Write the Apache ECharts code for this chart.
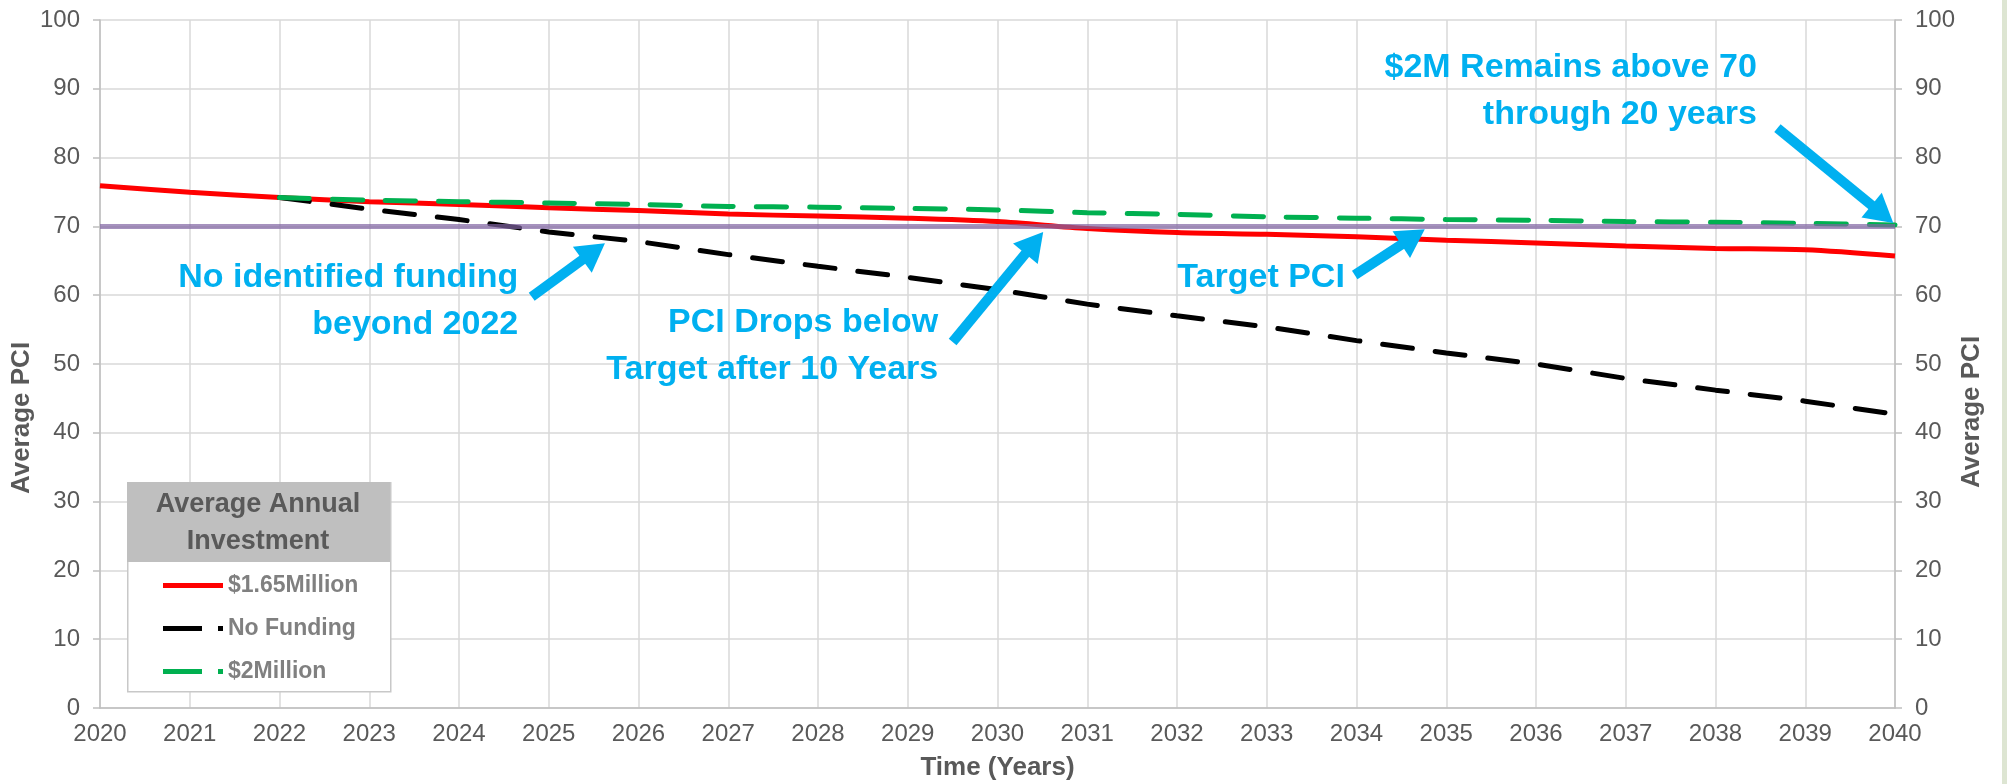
<!DOCTYPE html>
<html>
<head>
<meta charset="utf-8">
<title>Average PCI</title>
<script src="https://cdn.jsdelivr.net/npm/echarts@6.0.0/dist/echarts.min.js"></script>
<style>
  html, body { margin: 0; padding: 0; background: #fff; }
  #chart { width: 2007px; height: 784px; }
</style>
</head>
<body>
<div id="chart"></div>
<script>
// years on the x axis (also the tick labels)
const years = [2020, 2021, 2022, 2023, 2024, 2025, 2026, 2027, 2028, 2029, 2030,
  2031, 2032, 2033, 2034, 2035, 2036, 2037, 2038, 2039, 2040]

// $1.65Million
const fundingLow = [75.9, 74.95, 74.2, 73.6, 73.2, 72.7, 72.3, 71.8, 71.5, 71.2, 70.7,
  69.7, 69.1, 68.85, 68.5, 68.0, 67.6, 67.15, 66.8, 66.6, 65.7]
// No Funding (starts in 2022)
const noFunding = [null, null, 74.2, 72.5, 71.0, 69.2, 67.8, 65.9, 64.2, 62.6, 60.8,
  58.7, 57.0, 55.4, 53.4, 51.6, 50.0, 47.9, 46.2, 44.6, 42.7]
// $2Million (starts in 2022)
const fundingHigh = [null, null, 74.2, 73.8, 73.6, 73.4, 73.2, 72.9, 72.8, 72.6, 72.4,
  72.0, 71.75, 71.4, 71.2, 71.0, 70.9, 70.7, 70.6, 70.45, 70.2]
// Target PCI
const targetPci = [70, 70, 70, 70, 70, 70, 70, 70, 70, 70, 70,
  70, 70, 70, 70, 70, 70, 70, 70, 70, 70]

const seriesNames = ['$1.65Million', 'No Funding', '$2Million']

// callouts: [text, [year, pci]] (text right edge anchored at the point)
const noteTexts = [
  'No identified funding\nbeyond 2022',
  'PCI Drops below\nTarget after 10 Years',
  'Target PCI',
  '$2M Remains above 70\nthrough 20 years'
]
const notePoints = [[2024.66, 59.2], [2029.34, 52.6], [2033.87, 62.6], [2038.46, 89.7]]
// arrows: from -> to, in chart coordinates
const arrowFrom = [[2024.81, 59.78], [2029.50, 53.2], [2033.98, 62.94], [2038.69, 84.3]]
const arrowTo = [[2025.50, 66.35], [2030.41, 67.6], [2034.63, 68.46], [2039.86, 71.79]]

const pairs = arr => years.map((y, i) => [y, arr[i]]).filter(p => p[1] != null)

const FONT = "'Liberation Sans', Arial, sans-serif"
const AXIS_GREY = '#595959'
const CALLOUT = '#00b0f0'

// legend icons like the Excel ones: solid bar, or a dash followed by a dot
const ICON_SOLID = 'path://M0,0H60V5H0Z'
const ICON_DASH = 'path://M0,0H39V5H0Z M55,0H60V5H55Z'

const chart = echarts.init(document.getElementById('chart'))

const yAxisCommon = {
  type: 'value',
  min: 0,
  max: 100,
  interval: 10,
  axisLine: { show: true, lineStyle: { color: '#bfbfbf', width: 1.5 } },
  axisTick: { show: true, length: 7, lineStyle: { color: '#bfbfbf', width: 1.5 } },
  splitLine: { show: true, lineStyle: { color: '#d9d9d9', width: 1.5 } },
  axisLabel: { color: AXIS_GREY, fontSize: 24, fontFamily: FONT, margin: 20 }
}

chart.setOption({
  backgroundColor: '#ffffff',
  animation: false,
  grid: {
    left: 100, right: 112, top: 20, bottom: 76,
    containLabel: false, outerBoundsMode: 'none'
  },
  xAxis: {
    type: 'value',
    min: 2020,
    max: 2040,
    interval: 1,
    name: 'Time (Years)',
    nameLocation: 'middle',
    nameGap: 47,
    nameTextStyle: { color: AXIS_GREY, fontSize: 26, fontWeight: 'bold', fontFamily: FONT },
    axisLine: { show: true, lineStyle: { color: '#bfbfbf', width: 1.5 } },
    axisTick: { show: false },
    splitLine: { show: true, lineStyle: { color: '#d9d9d9', width: 1.5 } },
    axisLabel: {
      color: AXIS_GREY, fontSize: 24, fontFamily: FONT, margin: 14,
      formatter: v => String(v)
    }
  },
  yAxis: [
    Object.assign({ position: 'left' }, yAxisCommon),
    Object.assign({ position: 'right' }, yAxisCommon, { splitLine: { show: false } })
  ],
  legend: {
    data: [
      { name: seriesNames[0], icon: ICON_SOLID },
      { name: seriesNames[1], icon: ICON_DASH },
      { name: seriesNames[2], icon: ICON_DASH }
    ],
    orient: 'vertical',
    left: 158,
    top: 569,
    z: 100,
    itemWidth: 60,
    itemHeight: 5,
    itemGap: 20,
    itemStyle: { borderWidth: 0 },
    textStyle: { color: '#808080', fontSize: 23, fontWeight: 'bold', fontFamily: FONT }
  },
  graphic: [
    // legend frame with grey header
    {
      type: 'rect', left: 127, top: 482, z: 50,
      shape: { width: 263, height: 209 },
      style: { fill: '#ffffff', stroke: '#c8c8c8', lineWidth: 1.5 }
    },
    {
      type: 'rect', left: 127, top: 482, z: 51,
      shape: { width: 263, height: 80 },
      style: { fill: '#bfbfbf' }
    },
    {
      type: 'text', x: 258, y: 523, z: 52,
      style: {
        text: 'Average Annual\nInvestment', align: 'center', verticalAlign: 'middle',
        fill: AXIS_GREY, fontSize: 27, fontWeight: 'bold', fontFamily: FONT, lineHeight: 37
      }
    },
    // axis titles
    {
      type: 'text', x: 22, y: 418, rotation: Math.PI / 2, z: 10,
      style: {
        text: 'Average PCI', align: 'center', verticalAlign: 'middle',
        fill: AXIS_GREY, fontSize: 26, fontWeight: 'bold', fontFamily: FONT
      }
    },
    {
      type: 'text', x: 1972, y: 412, rotation: Math.PI / 2, z: 10,
      style: {
        text: 'Average PCI', align: 'center', verticalAlign: 'middle',
        fill: AXIS_GREY, fontSize: 26, fontWeight: 'bold', fontFamily: FONT
      }
    },
    // thin frame strip on the right edge
    {
      type: 'rect', right: 0, top: 0, z: 0,
      shape: { width: 5, height: 784 },
      style: { fill: '#dde5d2' }
    }
  ],
  series: [
    {
      name: seriesNames[0],
      type: 'line',
      data: pairs(fundingLow),
      symbol: 'none',
      smooth: 0.3,
      z: 3,
      lineStyle: { color: '#ff0000', width: 5 },
      itemStyle: { color: '#ff0000' }
    },
    {
      name: seriesNames[1],
      type: 'line',
      data: pairs(noFunding),
      symbol: 'none',
      z: 3,
      lineStyle: { color: '#000000', width: 5, type: [30, 23], cap: 'round' },
      itemStyle: { color: '#000000' }
    },
    {
      name: seriesNames[2],
      type: 'line',
      data: pairs(fundingHigh),
      symbol: 'none',
      smooth: 0.3,
      z: 3,
      lineStyle: { color: '#00b050', width: 5, type: [30, 23], cap: 'round' },
      itemStyle: { color: '#00b050' }
    },
    {
      name: 'Target PCI',
      type: 'line',
      data: pairs(targetPci),
      symbol: 'none',
      z: 4,
      lineStyle: { color: '#8064a2', width: 5, opacity: 0.7 },
      itemStyle: { color: '#8064a2' }
    },
    {
      // callout texts and arrows
      name: 'notes',
      type: 'line',
      data: [],
      z: 6,
      markLine: {
        silent: true,
        symbol: ['none', 'triangle'],
        symbolSize: [32, 28],
        label: { show: false },
        lineStyle: { color: CALLOUT, width: 10, type: 'solid', opacity: 1 },
        data: arrowFrom.map((p, i) => [{ coord: p }, { coord: arrowTo[i] }])
      },
      markPoint: {
        silent: true,
        symbol: 'circle',
        symbolSize: 0,
        label: {
          show: true,
          position: 'left',
          distance: 0,
          color: CALLOUT,
          fontSize: 34,
          fontWeight: 'bold',
          fontFamily: FONT,
          lineHeight: 47,
          align: 'right',
          formatter: p => p.name
        },
        data: notePoints.map((p, i) => ({ name: noteTexts[i], coord: p }))
      }
    }
  ]
})
</script>
</body>
</html>
